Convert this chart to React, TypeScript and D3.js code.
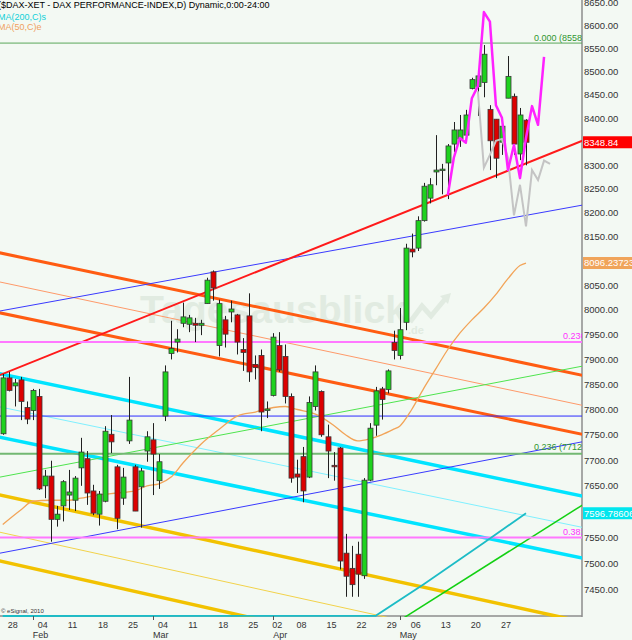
import * as d3 from 'd3'

// daily candles, index 0 = 24 Jan 2013 ... 87 = 31 May 2013
const opens = [
  7752, 7863, 7847, 7859, 7804, 7798, 7826, 7650, 7669, 7585, 7611, 7632, 7622, 7685, 7703, 7640, 7595, 7620, 7751, 7687,
  7626, 7738, 7687, 7648, 7718, 7740, 7660, 7787, 7912, 7935, 7973, 7971, 7973, 7969, 8013, 8078, 7928, 7980, 7996, 7990,
  7920, 7988, 7890, 7908, 7799, 7828, 7928, 7906, 7826, 7673, 7707, 7667, 7806, 7836, 7746, 7690, 7724, 7520, 7491, 7518,
  7477, 7661, 7769, 7841, 7840, 7934, 7908, 7975, 8125, 8127, 8184, 8231, 8286, 8290, 8305, 8345, 8356, 8364, 8464, 8468,
  8477, 8419, 8398, 8349, 8443, 8447, 8324, 8396
]
const highs = [
  7871, 7875, 7861, 7865, 7816, 7841, 7841, 7681, 7699, 7611, 7661, 7681, 7669, 7744, 7718, 7652, 7640, 7767, 7789, 7691,
  7685, 7865, 7691, 7685, 7757, 7773, 7712, 7888, 7978, 7961, 8015, 7990, 7984, 7980, 8066, 8081, 8021, 7988, 8019, 7992,
  7943, 8034, 7908, 7920, 7816, 7953, 7955, 7930, 7832, 7701, 7726, 7826, 7888, 7838, 7770, 7716, 7726, 7557, 7534, 7542,
  7665, 7773, 7845, 7845, 7880, 7958, 8004, 8136, 8157, 8193, 8263, 8273, 8364, 8303, 8345, 8392, 8407, 8418, 8487, 8500,
  8558, 8428, 8398, 8394, 8534, 8453, 8422, 8398
]
const lows = [
  7750, 7836, 7806, 7779, 7771, 7779, 7642, 7626, 7542, 7571, 7581, 7603, 7601, 7650, 7613, 7593, 7573, 7618, 7714, 7566,
  7613, 7732, 7601, 7569, 7697, 7632, 7644, 7777, 7900, 7914, 7965, 7955, 7935, 7949, 8013, 8019, 7906, 7924, 7975, 7910,
  7877, 7855, 7860, 7757, 7783, 7826, 7875, 7812, 7656, 7636, 7618, 7665, 7798, 7746, 7665, 7660, 7489, 7437, 7437, 7437,
  7471, 7659, 7748, 7780, 7832, 7900, 7900, 7959, 8108, 8121, 8182, 8220, 8258, 8239, 8229, 8328, 8339, 8347, 8462, 8405,
  8445, 8290, 8273, 8322, 8443, 8322, 8311, 8300
]
const closes = [
  7863, 7838, 7853, 7816, 7781, 7838, 7644, 7669, 7585, 7595, 7658, 7638, 7665, 7716, 7636, 7597, 7634, 7757, 7736, 7587,
  7667, 7779, 7601, 7679, 7746, 7712, 7697, 7875, 7922, 7941, 7986, 7984, 7969, 7973, 8061, 8045, 8013, 7951, 8002, 7935,
  7914, 7875, 7884, 7795, 7801, 7945, 7879, 7826, 7665, 7667, 7640, 7814, 7875, 7750, 7718, 7688, 7505, 7476, 7460, 7480,
  7661, 7763, 7837, 7820, 7877, 7918, 7960, 8127, 8119, 8184, 8256, 8259, 8290, 8292, 8341, 8375, 8375, 8407, 8483, 8491,
  8538, 8352, 8315, 8383, 8490, 8345, 8407, 8348.84
]

const dayTickIdx = [1, 6, 11, 16, 21, 26, 31, 36, 41, 45, 49, 54, 59, 64, 68, 73, 78, 83]
const dayTickLabels = ['28', '04', '11', '18', '25', '04', '11', '18', '25', '02', '08', '15', '22', '29', '06', '13', '20', '27']
const monthIdx = [5, 25, 45, 66]
const monthLabels = ['Feb', 'Mar', 'Apr', 'May']

// moving averages [day index, value]
const ma50 = [
  [0, 7575], [3, 7603], [5, 7620], [8, 7622], [11, 7622], [13, 7626], [16, 7632], [19, 7636], [22, 7640], [24, 7650],
  [26, 7654], [28, 7667], [30, 7695], [33, 7732], [36, 7761], [39, 7787], [42, 7795], [45, 7804], [47, 7806], [49, 7800],
  [52, 7791], [55, 7769], [57, 7750], [59, 7738], [61, 7742], [63, 7750], [65, 7761], [66, 7767], [68, 7800], [70, 7842],
  [72, 7881], [74, 7920], [76, 7953], [78, 7980], [80, 8004], [82, 8032], [84, 8064], [86, 8091], [87, 8096.23723]
]
const ma200 = [[0, 7380], [62, 7401], [70, 7461], [80, 7540], [87, 7596.78606]]

// projection overlays
const magentaPath = [
  [74, 8237], [75, 8316], [76, 8358], [77, 8348], [78, 8443], [79, 8469], [80, 8630], [81, 8609], [82, 8428],
  [83, 8401], [84, 8290], [85, 8343], [86, 8273], [87, 8358], [88, 8426], [89, 8386], [90, 8532]
]
const grayPath = [
  [79, 8458], [80, 8295], [81, 8322], [82, 8352], [83, 8356], [84, 8316], [85, 8195], [86, 8259], [87, 8172],
  [88, 8290], [89, 8269], [90, 8310], [91, 8303]
]

// trend lines: two anchors each [day index, price]
const redTrend = [[0, 7871], [87, 8304]]
const blueUpper = [[0, 7999], [87, 8195]]
const blueLower = [[0, 7521], [87, 7715]]
const orangeUpper = [[0, 8116], [87, 7892]]
const orangeLower = [[0, 7993], [87, 7774]]
const orangeThin = [[0, 8056], [87, 7832]]
const cyanUpper = [[0, 7870], [87, 7653]]
const cyanLower = [[0, 7744], [87, 7533]]
const cyanThin = [[0, 7804], [87, 7592]]
const yellowUpper = [[0, 7631], [87, 7413]]
const yellowLower = [[0, 7504], [40, 7401]]
const yellowThin = [[0, 7559], [62, 7403]]
const greenThin = [[0, 7668], [87, 7865]]
const greenRising = [[70, 7421], [87, 7544]]

const blueLevel = 7787
const greenFib = [8557.86, 7712.49]
const greenFibLabels = ['0.000 (8558.00)', '0.236 (7712.49)']
const magentaFib = [7935, 7550]
const magentaFibLabels = ['0.236', '0.382']

const priceTicks = d3.range(7450, 8651, 50)

export default function App() {
  const W = 632
  const H = 640
  const plotR = 582
  const plotB = 616
  const font = 'Liberation Sans, Arial, sans-serif'

  const y = d3.scaleLog().domain([8650, 7450]).range([3, 3 + 3930 * Math.log(8650 / 7450)])
  const x = d3.scaleLinear().domain([0, 87]).range([2.7, 526])
  const yFloor = y.invert(plotB)

  const seg = (pts: number[][]) => {
    const [[i1, p1], [i2, p2]] = pts
    const x1 = x(i1), y1 = y(p1), x2 = x(i2), y2 = y(p2)
    const k = (y2 - y1) / (x2 - x1)
    return { x1: -5, y1: y1 + k * (-5 - x1), x2: plotR + 5, y2: y1 + k * (plotR + 5 - x1) }
  }

  const trend = [
    { d: yellowLower, c: '#f2c200', w: 3.5 },
    { d: yellowThin, c: '#f2d24a', w: 1 },
    { d: yellowUpper, c: '#f2c200', w: 3.5 },
    { d: cyanThin, c: '#7ff0ff', w: 1 },
    { d: cyanLower, c: '#00e4ff', w: 3.5 },
    { d: cyanUpper, c: '#00e4ff', w: 3.5 },
    { d: orangeThin, c: '#ff9a6a', w: 1 },
    { d: orangeLower, c: '#ff5c12', w: 3 },
    { d: orangeUpper, c: '#ff5c12', w: 3 },
    { d: greenThin, c: '#4ee44e', w: 1 },
    { d: greenRising, c: '#12d012', w: 1.5 },
    { d: blueLower, c: '#3a3aff', w: 1 },
    { d: blueUpper, c: '#3a3aff', w: 1 },
    { d: redTrend, c: '#ff1a1a', w: 2 }
  ]

  const line = d3.line<number[]>()
    .x(d => x(d[0]))
    .y(d => y(Math.max(d[1], yFloor)))
  const smooth = d3.line<number[]>()
    .x(d => x(d[0]))
    .y(d => y(Math.max(d[1], yFloor)))
    .curve(d3.curveMonotoneX)

  const lastClose = closes[closes.length - 1]
  const lastMa50 = ma50[ma50.length - 1][1]
  const lastMa200 = ma200[ma200.length - 1][1]
  const boxes = [
    { v: lastClose, bg: '#ff0000', t: lastClose.toFixed(2) },
    { v: lastMa50, bg: '#f0a45a', t: lastMa50.toFixed(5) },
    { v: lastMa200, bg: '#00e6ee', t: lastMa200.toFixed(5) }
  ]
  // tick labels hidden behind the value boxes are left out
  const visibleTicks = priceTicks.filter(v => boxes.every(b => Math.abs(y(v) - y(b.v)) > 8))

  return (
    <svg width={W} height={H} style={{ position: 'absolute', left: 0, top: 0, display: 'block' }} fontFamily={font}>
      <defs>
        <clipPath id="plot"><rect x={0} y={0} width={plotR} height={plotB + 1} /></clipPath>
      </defs>
      <rect x={0} y={0} width={W} height={H} fill="#f3f9f3" />

      {/* watermark */}
      <g fill="#e1ebe1" stroke="none">
        <text x={140} y={323} fontSize={38} fontWeight="bold" textLength={267} lengthAdjust="spacingAndGlyphs">Tagesausblick</text>
        <text x={408} y={334} fontSize={11} fontWeight="bold">.de</text>
        <polyline points="410,322 422,306 431,316 446,298" fill="none" stroke="#e1ebe1" strokeWidth={5} />
        <polygon points="440,296 451,293 448,304" />
      </g>

      {/* axes */}
      <line x1={0} x2={plotR} y1={plotB} y2={plotB} stroke="#8c8c8c" strokeWidth={1.5} />
      <line x1={plotR} x2={plotR} y1={0} y2={plotB + 1} stroke="#8c8c8c" strokeWidth={1.5} />

      <g clipPath="url(#plot)">
        {trend.map((t, i) => {
          const s = seg(t.d)
          return <line key={i} {...s} stroke={t.c} strokeWidth={t.w} />
        })}
        <line x1={0} x2={plotR} y1={y(blueLevel)} y2={y(blueLevel)} stroke="#2a2aff" strokeWidth={1} />
        {magentaFib.map((v, i) => (
          <line key={'mf' + i} x1={0} x2={plotR} y1={y(v)} y2={y(v)} stroke="#ff78ff" strokeWidth={2} />
        ))}
        {greenFib.map((v, i) => (
          <line key={'gf' + i} x1={0} x2={plotR} y1={y(v) - (i === 0 ? 2 : 0)} y2={y(v) - (i === 0 ? 2 : 0)}
            stroke={i === 0 ? '#5aa85a' : '#72b872'} strokeWidth={i === 0 ? 1 : 2} />
        ))}
        {greenFib.map((v, i) => (
          <text key={'gl' + i} x={534} y={y(v) - 4} fontSize={9} fill="#2f962f">{greenFibLabels[i]}</text>
        ))}
        {magentaFib.map((v, i) => (
          <text key={'ml' + i} x={563} y={y(v) - 3} fontSize={9} fill="#ff30ff">{magentaFibLabels[i]}</text>
        ))}

        <path d={smooth(ma50) || ''} fill="none" stroke="#f2a458" strokeWidth={1.3} />
        <path d={line(ma200) || ''} fill="none" stroke="#1cbcc6" strokeWidth={1.8} />

        {opens.map((o, i) => {
          const c = closes[i]
          const cx = Math.round(x(i)) + 0.5
          const top = y(Math.max(o, c))
          const bot = y(Math.min(o, c))
          const up = c >= o
          return (
            <g key={'c' + i}>
              <line x1={cx} x2={cx} y1={y(highs[i])} y2={y(lows[i])} stroke="#202020" strokeWidth={1} />
              <rect x={cx - 2.5} y={top} width={5} height={Math.max(1.5, bot - top)}
                fill={up ? '#1ed21e' : '#dc0000'} stroke="#383838" strokeWidth={0.8} />
            </g>
          )
        })}

        <path d={line(grayPath) || ''} fill="none" stroke="#c4c4c4" strokeWidth={2} />
        <path d={line(magentaPath) || ''} fill="none" stroke="#ff22ff" strokeWidth={2.5} strokeLinejoin="round" />
      </g>

      {/* header */}
      <text x={-2} y={8} fontSize={9} fill="#000">($DAX-XET - DAX PERFORMANCE-INDEX,D) Dynamic,0:00-24:00</text>
      <text x={-2} y={19.5} fontSize={9} fill="#10d0d8">MA(200,C)s</text>
      <text x={-2} y={30} fontSize={9} fill="#f0a060">MA(50,C)e</text>

      {visibleTicks.map(v => (
        <text key={'p' + v} x={584} y={y(v)} dy="0.35em" fontSize={9.5} fill="#333">{v.toFixed(2)}</text>
      ))}
      {boxes.map((b, i) => (
        <g key={'b' + i}>
          <rect x={plotR + 1} y={y(b.v) - 6} width={W - plotR} height={12} fill={b.bg} />
          <text x={584} y={y(b.v)} dy="0.35em" fontSize={9.5} fill="#fff">{b.t}</text>
        </g>
      ))}

      {dayTickIdx.map((d, i) => (
        <text key={'d' + i} x={x(d) - 1} y={627.5} fontSize={9} fill="#333">{dayTickLabels[i]}</text>
      ))}
      {monthIdx.map((d, i) => (
        <g key={'m' + i}>
          <line x1={Math.round(x(d)) + 0.5} x2={Math.round(x(d)) + 0.5} y1={plotB} y2={plotB + 4} stroke="#555" />
          <text x={x(d)} y={638} fontSize={9} fill="#333">{monthLabels[i]}</text>
        </g>
      ))}
      <text x={1} y={613} fontSize={6} fill="#333">© eSignal, 2010</text>
    </svg>
  )
}
